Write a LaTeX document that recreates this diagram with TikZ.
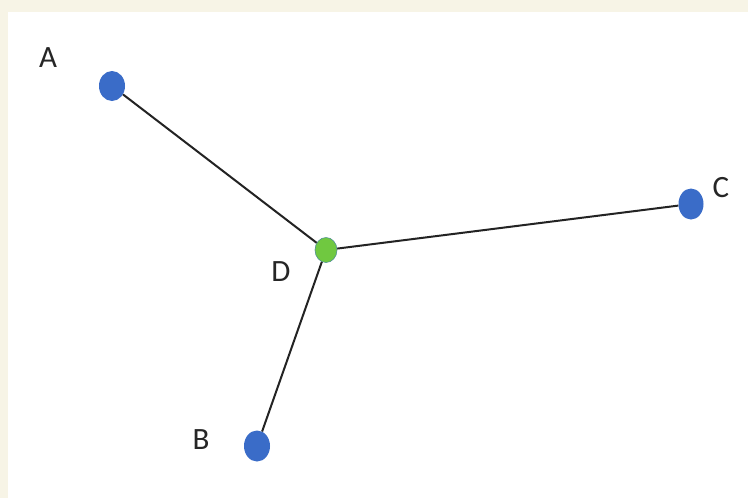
\documentclass[tikz,border=0pt]{standalone}
\usepackage{fontspec}
\setmainfont{Carlito}
\usetikzlibrary{shapes.geometric}
\definecolor{bgbeige}{RGB}{247,244,230}
\definecolor{dotblue}{RGB}{58,108,200}
\definecolor{dotgreen}{RGB}{112,200,64}
\definecolor{edgegray}{RGB}{35,35,35}
\begin{document}
\begin{tikzpicture}[x=1pt,y=-1pt,
  dot/.style={ellipse, inner sep=0pt, minimum width=26pt, minimum height=30pt, fill=dotblue, draw=none},
  gdot/.style={ellipse, inner sep=0pt, minimum width=22pt, minimum height=25pt, fill=dotgreen, draw=dotblue!60!dotgreen, line width=0.6pt},
  lab/.style={font=\fontsize{31}{31}\selectfont, text=black!85, inner sep=0pt},
  edge/.style={draw=edgegray, line width=2pt}]
\useasboundingbox (0,0) rectangle (748,498);
\fill[bgbeige] (0,0) rectangle (748,498);
\fill[white] (8,12) rectangle (748,498);
\node[dot] (A) at (112,86) {};
\node[gdot] (D) at (326,250) {};
\node[dot, minimum width=25pt, minimum height=31pt] (C) at (691,204) {};
\node[dot, minimum height=31pt] (B) at (257,446) {};
\draw[edge] (A) -- (D);
\draw[edge] (D) -- (C);
\draw[edge] (D) -- (B);
\node[lab] (lA) at (48,58) {A};
\node[lab] (lD) at (281,272) {D};
\node[lab] (lC) at (721,188) {C};
\node[lab] (lB) at (201,440) {B};
\end{tikzpicture}
\end{document}
